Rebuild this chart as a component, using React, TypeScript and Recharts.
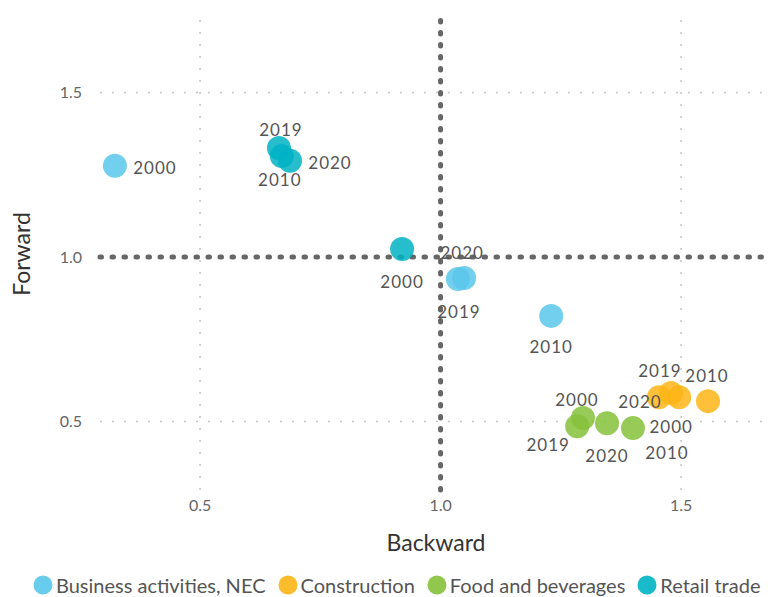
import { ScatterChart, Scatter, XAxis, YAxis, ReferenceLine, Legend } from 'recharts';

const FONT = 'Lato, "Open Sans", sans-serif';

// years in the order used by every series below
const YEARS = ['2000', '2010', '2019', '2020'];

const BUSINESS_X = [0.323, 1.23, 1.036, 1.049];
const BUSINESS_Y = [1.277, 0.821, 0.933, 0.936];

const CONSTRUCTION_X = [1.496, 1.556, 1.479, 1.454];
const CONSTRUCTION_Y = [0.574, 0.562, 0.587, 0.574];

const FOOD_X = [1.296, 1.4, 1.284, 1.346];
const FOOD_Y = [0.511, 0.48, 0.486, 0.495];

const RETAIL_X = [0.92, 0.67, 0.664, 0.687];
const RETAIL_Y = [1.024, 1.307, 1.331, 1.292];

const X_TICKS = [0.5, 1.0, 1.5];
const Y_TICKS = [0.5, 1.0, 1.5];

const SERIES = [
  { name: 'Business activities, NEC', color: '#59C7EB', xs: BUSINESS_X, ys: BUSINESS_Y },
  { name: 'Construction', color: '#FDB515', xs: CONSTRUCTION_X, ys: CONSTRUCTION_Y },
  { name: 'Food and beverages', color: '#85C13A', xs: FOOD_X, ys: FOOD_Y },
  { name: 'Retail trade', color: '#00B2C4', xs: RETAIL_X, ys: RETAIL_Y },
];

// repelled year labels: pixel offset of label centre from point centre
const LABEL_OFFSETS: Record<string, [number, number][]> = {
  'Business activities, NEC': [[40, 2], [0, 31], [1, 32], [-2, -26]],
  Construction: [[-8, 29], [-1, -26], [-11, -22], [-19, 4]],
  'Food and beverages': [[-6, -18], [34, 24], [-29, 18], [0, 32]],
  'Retail trade': [[0, 32], [-2, 24], [2, -19], [40, 2]],
};

const toRows = (xs: number[], ys: number[]) =>
  xs.map((x, i) => ({ x, y: ys[i], year: YEARS[i], idx: i }));

function Dot(props: any) {
  const { cx, cy, fill } = props;
  if (cx == null || cy == null) return null;
  return <circle cx={cx} cy={cy} r={12} fill={fill} fillOpacity={0.85} />;
}

function makeLabel(series: string) {
  return (props: any) => {
    const { cx, cy, payload } = props;
    if (cx == null || cy == null) return null;
    const [dx, dy] = LABEL_OFFSETS[series][payload.idx];
    return (
      <text
        x={cx + dx}
        y={cy + dy}
        textAnchor="middle"
        dominantBaseline="central"
        fontSize={17}
        letterSpacing={1}
        fill="#555"
        fontFamily={FONT}
      >
        {payload.year}
      </text>
    );
  };
}

function LegendBox() {
  return (
    <div style={{ display: 'flex', alignItems: 'center', justifyContent: 'flex-start', whiteSpace: 'nowrap', marginTop: 6, paddingLeft: 33, fontFamily: FONT, fontSize: 20, color: '#555' }}>
      {SERIES.map(s => (
        <span key={s.name} style={{ display: 'flex', alignItems: 'center', marginRight: 12 }}>
          <svg width={20} height={20} style={{ marginRight: 3 }}>
            <circle cx={10} cy={10} r={9.5} fill={s.color} fillOpacity={0.9} />
          </svg>
          {s.name}
        </span>
      ))}
    </div>
  );
}

const gridLine = { stroke: '#c4c4c4', strokeWidth: 1.5, strokeDasharray: '2 10' };

export default function App() {
  return (
    <div style={{ position: 'absolute', left: 0, top: 0, background: '#fff' }}>
      <ScatterChart width={772} height={597} margin={{ top: 18, right: 0, left: 0, bottom: 0 }}>
        <XAxis
          type="number"
          dataKey="x"
          domain={[0.292, 1.689]}
          allowDataOverflow
          ticks={X_TICKS}
          tickFormatter={(v: number) => v.toFixed(1)}
          axisLine={false}
          tickLine={false}
          height={77}
          tick={{ fontSize: 16, fill: '#666', fontFamily: FONT }}
          tickMargin={4}
          label={{ value: 'Backward', position: 'insideBottom', offset: 16, fontSize: 23, fill: '#333', fontFamily: FONT }}
        />
        <YAxis
          type="number"
          dataKey="y"
          domain={[0.292, 1.726]}
          allowDataOverflow
          ticks={Y_TICKS}
          tickFormatter={(v: number) => v.toFixed(1)}
          axisLine={false}
          tickLine={false}
          width={100}
          tick={{ fontSize: 16, fill: '#666', fontFamily: FONT }}
          tickMargin={12}
          label={{ value: 'Forward', angle: -90, position: 'insideLeft', offset: 22, fontSize: 23, fill: '#333', fontFamily: FONT, style: { textAnchor: 'middle' } }}
        />
        {X_TICKS.filter(t => t !== 1).map(t => (
          <ReferenceLine key={'gx' + t} x={t} {...gridLine} />
        ))}
        {Y_TICKS.filter(t => t !== 1).map(t => (
          <ReferenceLine key={'gy' + t} y={t} {...gridLine} />
        ))}
        <ReferenceLine x={1} stroke="#666" strokeWidth={5} strokeDasharray="1.5 10.5" strokeLinecap="round" />
        <ReferenceLine y={1} stroke="#666" strokeWidth={5} strokeDasharray="1.5 10.5" strokeLinecap="round" />
        {SERIES.map(s => (
          <Scatter
            key={s.name}
            name={s.name}
            data={toRows(s.xs, s.ys)}
            fill={s.color}
            shape={<Dot />}
            isAnimationActive={false}
          />
        ))}
        {SERIES.map(s => (
          <Scatter
            key={s.name + '-labels'}
            name={s.name + ' labels'}
            data={toRows(s.xs, s.ys)}
            fill="none"
            legendType="none"
            shape={makeLabel(s.name)}
            isAnimationActive={false}
          />
        ))}
        <Legend verticalAlign="bottom" content={<LegendBox />} wrapperStyle={{ height: 30 }} />
      </ScatterChart>
    </div>
  );
}
